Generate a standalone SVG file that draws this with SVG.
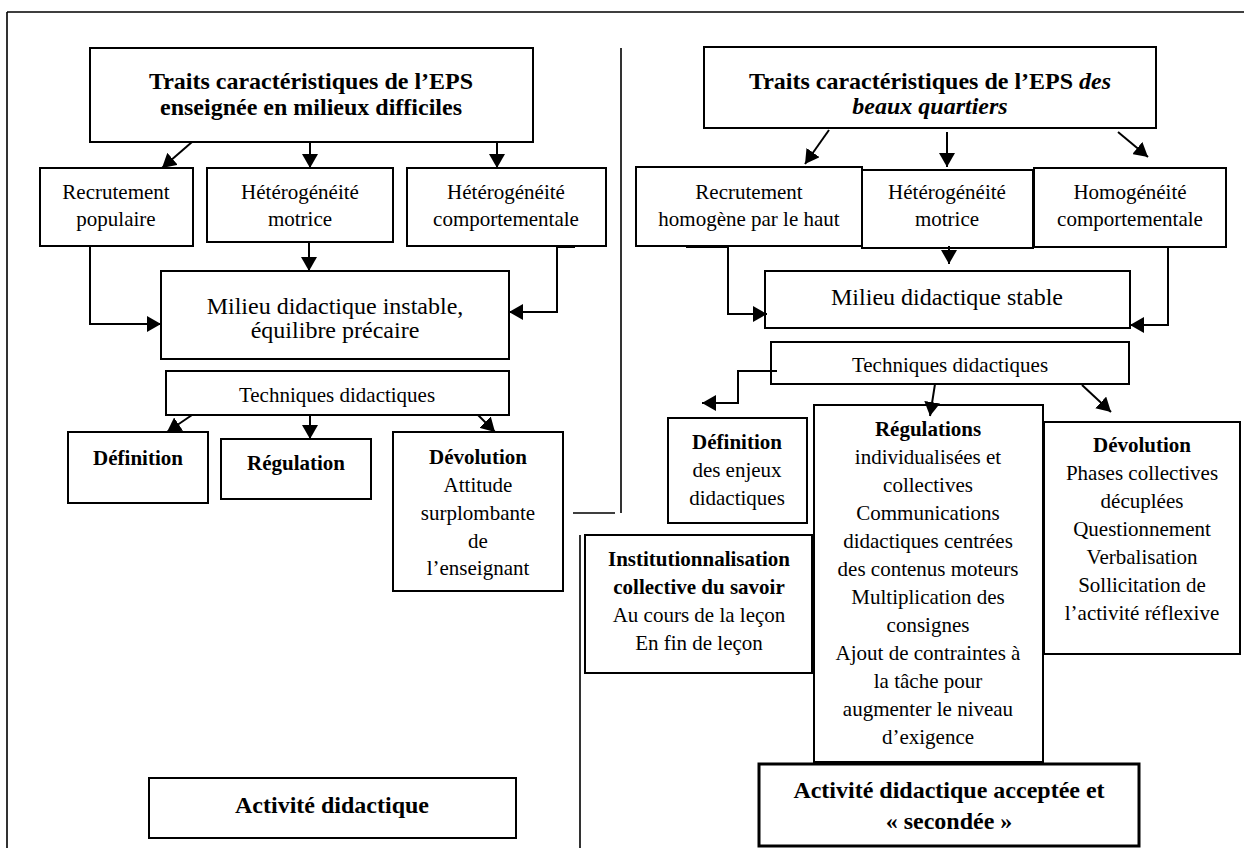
<svg xmlns="http://www.w3.org/2000/svg" width="1244" height="848" viewBox="0 0 1244 848">
<style>
.box{fill:#fff;stroke:#000;stroke-width:2}
.thick{stroke-width:3}
.t{font-family:"Liberation Serif","Times New Roman",serif;font-size:21px;text-anchor:middle;fill:#000}
.b{font-weight:bold}
.big{font-size:24px}
.conn{fill:none;stroke:#000;stroke-width:2;marker-end:url(#ah)}
.ln{fill:none;stroke:#000;stroke-width:1.6}
</style>
<defs>
<marker id="ah" markerUnits="userSpaceOnUse" markerWidth="16" markerHeight="16" refX="14" refY="8" orient="auto">
<path d="M0,0 L14,8 L0,16 z" fill="#000"/>
</marker>
</defs>
<rect width="1244" height="848" fill="#fff"/>
<g id="frame">
<path class="ln" d="M7,12 H1244 M7,12 V848 M621,48 V513 M573,513 H615 M580,535 V848"/>
</g>
<g id="title-left"><rect class="box" x="90" y="48" width="443" height="94"/>
<text class="t b big" x="311" y="89">Traits caractéristiques de l’EPS</text>
<text class="t b big" x="311" y="115">enseignée en milieux difficiles</text></g>
<g id="rec-pop"><rect class="box" x="40" y="168" width="153" height="78"/>
<text class="t" x="116" y="199">Recrutement</text><text class="t" x="116" y="226">populaire</text></g>
<g id="het-mot-l"><rect class="box" x="207" y="168" width="186" height="74"/>
<text class="t" x="300" y="199">Hétérogénéité</text><text class="t" x="300" y="226">motrice</text></g>
<g id="het-comp"><rect class="box" x="407" y="168" width="199" height="78"/>
<text class="t" x="506" y="199">Hétérogénéité</text><text class="t" x="506" y="226">comportementale</text></g>
<g id="milieu-instable"><rect class="box" x="161" y="271" width="348" height="88"/>
<text class="t big" x="335" y="314">Milieu didactique instable,</text>
<text class="t big" x="335" y="338">équilibre précaire</text></g>
<g id="tech-l"><rect class="box" x="166" y="371" width="343" height="44"/>
<text class="t" x="337" y="402">Techniques didactiques</text></g>
<g id="def-l"><rect class="box" x="68" y="432" width="140" height="71"/>
<text class="t b" x="138" y="465">Définition</text></g>
<g id="reg-l"><rect class="box" x="221" y="439" width="150" height="60"/>
<text class="t b" x="296" y="470">Régulation</text></g>
<g id="dev-l"><rect class="box" x="393" y="432" width="170" height="159"/>
<text class="t b" x="478" y="464">Dévolution</text>
<text class="t" x="478" y="492">Attitude</text>
<text class="t" x="478" y="520">surplombante</text>
<text class="t" x="478" y="548">de</text>
<text class="t" x="478" y="575">l’enseignant</text></g>
<g id="activite-l"><rect class="box" x="149" y="778" width="367" height="60"/>
<text class="t b big" x="332" y="813">Activité didactique</text></g>
<g id="title-right"><rect class="box" x="704" y="47" width="452" height="81"/>
<text class="t b big" x="930" y="89">Traits caractéristiques de l’EPS <tspan font-style="italic">des</tspan></text>
<text class="t b big" x="930" y="114" font-style="italic">beaux quartiers</text></g>
<g id="rec-hom"><rect class="box" x="636" y="167" width="226" height="79"/>
<text class="t" x="749" y="199">Recrutement</text><text class="t" x="749" y="226">homogène par le haut</text></g>
<g id="het-mot-r"><rect class="box" x="862" y="170" width="171" height="78"/>
<text class="t" x="947" y="199">Hétérogénéité</text><text class="t" x="947" y="226">motrice</text></g>
<g id="hom-comp"><rect class="box" x="1034" y="168" width="192" height="79"/>
<text class="t" x="1130" y="199">Homogénéité</text><text class="t" x="1130" y="226">comportementale</text></g>
<g id="milieu-stable"><rect class="box" x="765" y="271" width="365" height="57"/>
<text class="t big" x="947" y="305">Milieu didactique stable</text></g>
<g id="tech-r"><rect class="box" x="771" y="342" width="358" height="42"/>
<text class="t" x="950" y="372">Techniques didactiques</text></g>
<g id="def-r"><rect class="box" x="668" y="418" width="139" height="105"/>
<text class="t b" x="737" y="449">Définition</text>
<text class="t" x="737" y="477">des enjeux</text>
<text class="t" x="737" y="505">didactiques</text></g>
<g id="reg-r"><rect class="box" x="814" y="405" width="229" height="357"/>
<text class="t b" x="928" y="436">Régulations</text>
<text class="t" x="928" y="464">individualisées et</text>
<text class="t" x="928" y="492">collectives</text>
<text class="t" x="928" y="520">Communications</text>
<text class="t" x="928" y="548">didactiques centrées</text>
<text class="t" x="928" y="576">des contenus moteurs</text>
<text class="t" x="928" y="604">Multiplication des</text>
<text class="t" x="928" y="632">consignes</text>
<text class="t" x="928" y="660">Ajout de contraintes à</text>
<text class="t" x="928" y="688">la tâche pour</text>
<text class="t" x="928" y="716">augmenter le niveau</text>
<text class="t" x="928" y="744">d’exigence</text></g>
<g id="dev-r"><rect class="box" x="1044" y="422" width="196" height="232"/>
<text class="t b" x="1142" y="452">Dévolution</text>
<text class="t" x="1142" y="480">Phases collectives</text>
<text class="t" x="1142" y="508">décuplées</text>
<text class="t" x="1142" y="536">Questionnement</text>
<text class="t" x="1142" y="564">Verbalisation</text>
<text class="t" x="1142" y="592">Sollicitation de</text>
<text class="t" x="1142" y="620">l’activité réflexive</text></g>
<g id="inst"><rect class="box" x="585" y="535" width="227" height="138"/>
<text class="t b" x="699" y="566">Institutionnalisation</text>
<text class="t b" x="699" y="594">collective du savoir</text>
<text class="t" x="699" y="622">Au cours de la leçon</text>
<text class="t" x="699" y="650">En fin de leçon</text></g>
<g id="activite-r"><rect class="box thick" x="759" y="764" width="380" height="82"/>
<text class="t b big" x="949" y="798">Activité didactique acceptée et</text>
<text class="t b big" x="949" y="829">« secondée »</text></g>
<g id="connectors">
<path class="conn" d="M192,142 L162,168"/>
<path class="conn" d="M310,142 L310,168"/>
<path class="conn" d="M497,142 L497,168"/>
<path class="conn" d="M309,242 L309,271"/>
<path class="conn" d="M90,246 L90,324 L161,324"/>
<path class="conn" d="M575,247 L557,247 L557,312 L509,312"/>
<path class="conn" d="M192,415 L167,432"/>
<path class="conn" d="M310,415 L310,439"/>
<path class="conn" d="M478,415 L495,432"/>
<path class="conn" d="M829,130 L805,164"/>
<path class="conn" d="M947,132 L947,167"/>
<path class="conn" d="M1118,132 L1148,157"/>
<path class="conn" d="M949,246 L949,264"/>
<path class="conn" d="M686,247 L728,247 L728,314 L767,314"/>
<path class="conn" d="M1168,248 L1168,325 L1130,325"/>
<path class="conn" d="M777,371 L738,371 L738,403 L702,403"/>
<path class="conn" d="M935,384 L930,416"/>
<path class="conn" d="M1082,385 L1111,412"/>
</g>
</svg>
